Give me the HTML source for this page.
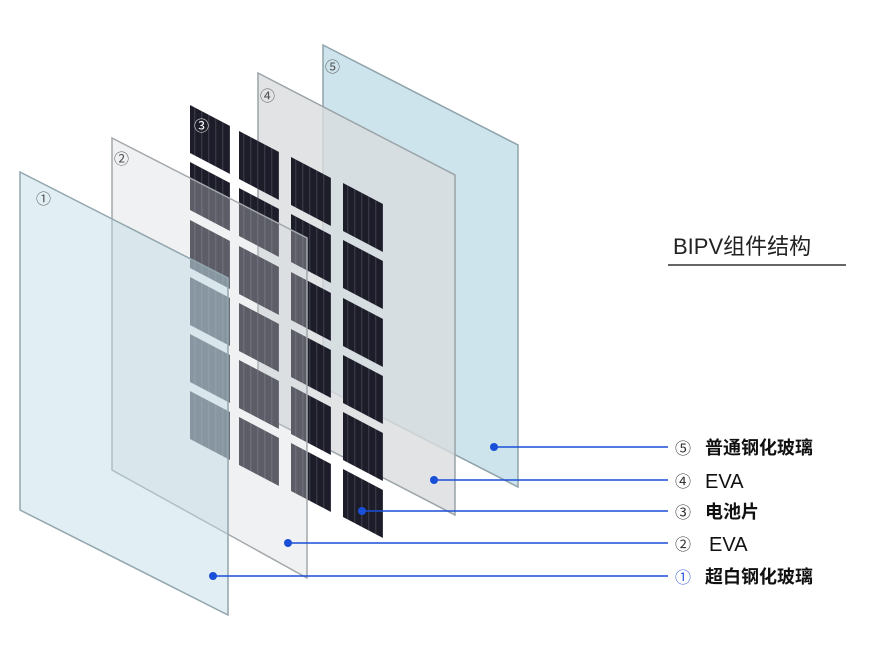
<!DOCTYPE html>
<html><head><meta charset="utf-8"><style>
html,body{margin:0;padding:0;background:#fff;width:881px;height:656px;overflow:hidden}
svg{display:block}
text{font-family:"Liberation Sans","Noto Sans CJK SC",sans-serif}
</style></head><body>
<svg width="881" height="656" viewBox="0 0 881 656" xmlns="http://www.w3.org/2000/svg">
<defs>
<pattern id="cl" width="7" height="60" patternUnits="userSpaceOnUse">
<rect width="7" height="60" fill="#1d1d29"/><rect x="5.5" width="0.7" height="60" fill="#4e4e62"/>
</pattern>
</defs>
<polygon points="323,45 518,145 518,487 323,387" fill="#cde4ed" stroke="#8fa3aa" stroke-width="1.5"/>
<polygon points="258,73 455,175 455,515 258,413" fill="#d9dcde" fill-opacity="0.8" stroke="#9aa3a7" stroke-width="1.5"/>
<g fill="url(#cl)">
<g id="c1">
<polygon points="190,105 230,126 230,174 190,153"/>
<polygon points="190,162 230,183 230,231 190,210"/>
<polygon points="190,220 230,241 230,289 190,268"/>
<polygon points="190,277 230,298 230,346 190,325"/>
<polygon points="190,334 230,355 230,403 190,382"/>
<polygon points="190,391 230,412 230,460 190,439"/>
</g>
<use href="#c1" transform="translate(49,26)"/>
<use href="#c1" transform="translate(101,52)"/>
<use href="#c1" transform="translate(153,78)"/>
</g>
<polygon points="112,138 307,238 307,578 112,470" fill="#d4d8da" fill-opacity="0.35" stroke="#a2a8ab" stroke-width="1.5"/>
<polygon points="20,172 228,278 228,615 20,510" fill="#bcdbe7" fill-opacity="0.45" stroke="#93a6ad" stroke-width="1.5"/>
<g font-size="15" fill="#555">
<text x="36" y="204">①</text>
<text x="114" y="164">②</text>
<text x="194" y="131" fill="#fff">③</text>
<text x="260" y="101">④</text>
<text x="325" y="72">⑤</text>
</g>
<g stroke="#1a4fd8" stroke-width="1.5" fill="#1a4fd8">
<line x1="494" y1="447" x2="668" y2="447"/><circle cx="494" cy="447" r="4" stroke="none"/>
<line x1="434" y1="480" x2="668" y2="480"/><circle cx="434" cy="480" r="4" stroke="none"/>
<line x1="362" y1="511" x2="668" y2="511"/><circle cx="362" cy="511" r="4" stroke="none"/>
<line x1="288" y1="543" x2="668" y2="543"/><circle cx="288" cy="543" r="4" stroke="none"/>
<line x1="213" y1="576" x2="668" y2="576"/><circle cx="213" cy="576" r="4" stroke="none"/>
</g>
<g font-size="18" fill="#111" font-weight="bold">
<text x="675" y="454" font-weight="normal" font-size="16" fill="#333">⑤</text><text x="705" y="454">普通钢化玻璃</text>
<text x="675" y="487" font-weight="normal" font-size="16" fill="#333">④</text><text x="705" y="488" font-weight="normal" font-size="20">EVA</text>
<text x="675" y="518" font-weight="normal" font-size="16" fill="#333">③</text><text x="705" y="518">电池片</text>
<text x="675" y="550" font-weight="normal" font-size="16" fill="#333">②</text><text x="709" y="551" font-weight="normal" font-size="20">EVA</text>
<text x="675" y="583" font-weight="normal" font-size="16" fill="#3a62e0">①</text><text x="705" y="583">超白钢化玻璃</text>
</g>
<text x="673" y="254" font-size="22" fill="#222">BIPV组件结构</text>
<line x1="668" y1="265" x2="846" y2="265" stroke="#333" stroke-width="1.5"/>
</svg>
</body></html>
